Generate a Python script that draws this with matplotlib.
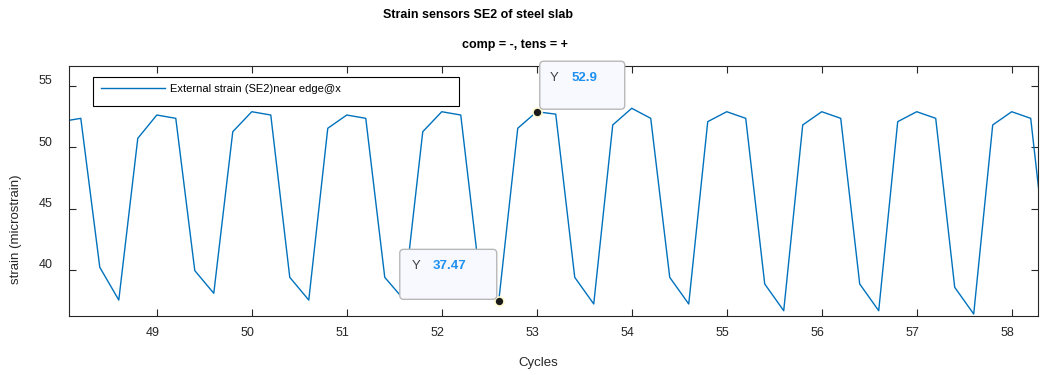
import matplotlib.pyplot as plt
from matplotlib.patches import FancyBboxPatch, Rectangle
from matplotlib.transforms import ScaledTranslation

plt.rcParams['font.family'] = ['Liberation Sans', 'DejaVu Sans']

# sampled every 0.2 cycles
cycles = [48.0 + 0.2 * i for i in range(53)]
strain = [52.1, 52.36, 40.22, 37.55, 50.73,
          52.63, 52.36, 39.95, 38.1, 51.27,
          52.9, 52.63, 39.4, 37.55, 51.55,
          52.63, 52.36, 39.4, 37.6, 51.27,
          52.9, 52.63, 39.4, 37.47, 51.55,
          52.9, 52.7, 39.4, 37.23, 51.82,
          53.18, 52.36, 39.4, 37.23, 52.09,
          52.9, 52.36, 38.86, 36.68, 51.82,
          52.9, 52.36, 38.86, 36.68, 52.09,
          52.9, 52.36, 38.59, 36.41, 51.82,
          52.9, 52.36, 38.6]
x_ticks = [49, 50, 51, 52, 53, 54, 55, 56, 57, 58]
y_ticks = [40, 45, 50, 55]
tips = [(52.6, 37.47), (53.0, 52.9)]

fig = plt.figure(figsize=(10.45, 3.75), dpi=100)
ax = fig.add_axes([69.3 / 1045, 1 - 316 / 375, 969 / 1045, 250.3 / 375])

ax.plot(cycles, strain, color='#0072BD', lw=1.0, label='External strain (SE2)near edge@x')
ax.set_xlim(48.079, 58.28)
ax.set_ylim(36.25, 56.65)
ax.set_xticks(x_ticks)
ax.set_yticks(y_ticks)
ax.tick_params(direction='in', top=True, right=True, labelsize=9, length=5,
               color='#262626', labelcolor='#262626')
ax.tick_params(axis='x', pad=8)
ax.tick_params(axis='y', pad=12)
for s in ax.spines.values():
    s.set_color('#262626')
    s.set_linewidth(0.8)

# matlab-ish label offsets
for lab in ax.get_yticklabels():
    lab.set_transform(lab.get_transform() + ScaledTranslation(0, 0.06, fig.dpi_scale_trans))
for lab in ax.get_xticklabels():
    lab.set_transform(lab.get_transform() + ScaledTranslation(-0.045, 0, fig.dpi_scale_trans))

ax.add_patch(Rectangle((0.0248, 0.837), 0.3774, 0.1167, transform=ax.transAxes,
                       fc='white', ec='black', lw=0.8, zorder=4))
leg = ax.legend(loc='center left', bbox_to_anchor=(0.0324, 0.907), frameon=False,
                fontsize=8, handlelength=5.77, handletextpad=0.45, borderpad=0,
                borderaxespad=0)
leg.set_zorder(5)

# data tips
for cx, cy in tips:
    ax.plot(cx, cy, 'o', ms=6.5, mfc='#1a1a1a', mec='#fffbd0', mew=1.2, zorder=5,
            clip_on=False)
    tr = fig.dpi_scale_trans + ScaledTranslation(cx, cy, ax.transData)
    if cy < 45:
        x0, y0, w, h = -0.99, 0.017, 0.97, 0.50
        tx = x0 + 0.12
        vx = x0 + 0.33
    else:
        x0, y0, w, h = 0.03, 0.025, 0.85, 0.48
        tx = x0 + 0.10
        vx = x0 + 0.32
    box = FancyBboxPatch((x0, y0), w, h, boxstyle='round,pad=0,rounding_size=0.04',
                         transform=tr, fc='#f8f8ff', ec='#b8b8b8', lw=1.0, zorder=6,
                         clip_on=False)
    ax.add_patch(box)
    ax.text(tx, y0 + h - 0.17, 'Y', transform=tr, fontsize=9.5, color='#444444',
            va='center', ha='left', zorder=7, clip_on=False)
    ax.text(vx, y0 + h - 0.17, f'{cy:g}', transform=tr, fontsize=9.5, color='#1E90F0',
            fontweight='bold', va='center', ha='left', zorder=7, clip_on=False)

fig.text(478 / 1045, 1 - 15 / 375, 'Strain sensors SE2 of steel slab', fontsize=9,
         fontweight='bold', ha='center', va='center')
fig.text(515 / 1045, 1 - 45 / 375, 'comp = -, tens = +', fontsize=9,
         fontweight='bold', ha='center', va='center')
fig.text(538 / 1045, 1 - 363 / 375, 'Cycles', fontsize=9.5, ha='center', va='center',
         color='#262626')
fig.text(16 / 1045, 1 - 229.5 / 375, 'strain (microstrain)', fontsize=9.5, rotation=90,
         ha='center', va='center', color='#262626')

fig.savefig('out.png', dpi=100)
